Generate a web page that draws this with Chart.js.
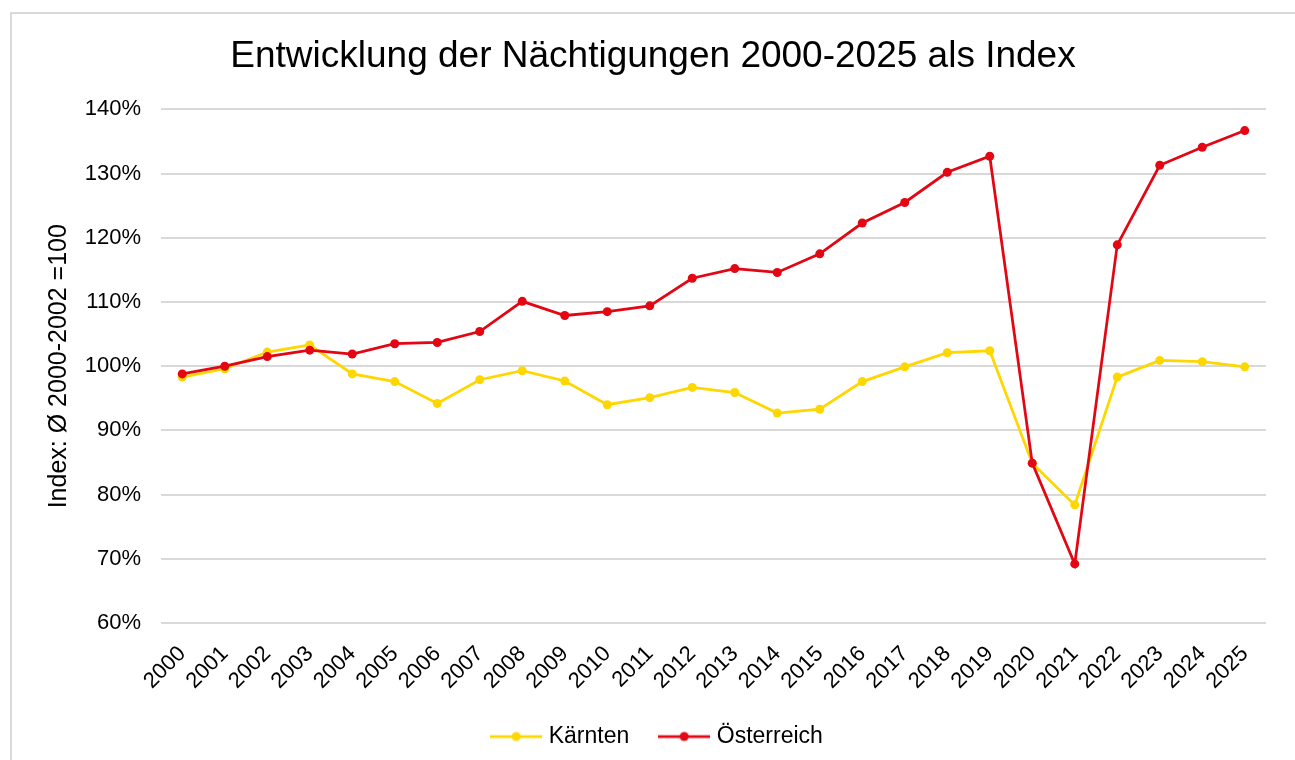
<!DOCTYPE html>
<html>
<head>
<meta charset="utf-8">
<script src="https://cdn.jsdelivr.net/npm/chart.js@4"></script>
<style>
  html, body { margin: 0; padding: 0; background: #fff; overflow: hidden; }
  #frame { position: absolute; left: 10px; top: 12px; width: 1400px; height: 900px; border: 2px solid #d9d9d9; }
  #wrap { position: absolute; left: 0; top: 0; }
</style>
</head>
<body>
<div id="frame"></div>
<div id="wrap"><canvas id="chart" width="1295" height="758"></canvas></div>
<script>
const years = ["2000", "2001", "2002", "2003", "2004", "2005", "2006", "2007", "2008", "2009",
  "2010", "2011", "2012", "2013", "2014", "2015", "2016", "2017", "2018", "2019",
  "2020", "2021", "2022", "2023", "2024", "2025"];

// Index in %, Ø 2000-2002 = 100
const kaernten = [98.3, 99.6, 102.2, 103.3, 98.8, 97.6, 94.2, 97.9, 99.3, 97.7,
  94.0, 95.1, 96.7, 95.9, 92.7, 93.3, 97.6, 99.9, 102.1, 102.4,
  84.9, 78.4, 98.3, 100.9, 100.7, 99.9];
const oesterreich = [98.8, 100.0, 101.5, 102.5, 101.9, 103.5, 103.7, 105.4, 110.1, 107.9,
  108.5, 109.4, 113.7, 115.2, 114.6, 117.5, 122.3, 125.5, 130.2, 132.7,
  84.9, 69.2, 118.9, 131.3, 134.1, 136.7];

const yMin = 60;
const yMax = 140;
const yStep = 10;

const YELLOW = "#ffd700";
const RED = "#e30613";
const FONT = "'Liberation Sans', Arial, sans-serif";

// little line-with-dot marker for the legend
function legendMarker(color) {
  const c = document.createElement("canvas");
  c.width = 52;
  c.height = 12;
  const ctx = c.getContext("2d");
  ctx.strokeStyle = color;
  ctx.lineWidth = 2.75;
  ctx.beginPath();
  ctx.moveTo(0, 6);
  ctx.lineTo(52, 6);
  ctx.stroke();
  ctx.fillStyle = color;
  ctx.beginPath();
  ctx.arc(26, 6, 4.5, 0, Math.PI * 2);
  ctx.fill();
  return c;
}

const markers = [legendMarker(YELLOW), legendMarker(RED)];

// legend sits a touch right of centre in the original
const legendNudge = {
  id: "legendNudge",
  afterLayout(chart) {
    chart.legend.left += 6;
    chart.legend.right += 6;
  }
};

new Chart(document.getElementById("chart"), {
  type: "line",
  data: {
    labels: years,
    datasets: [{
      label: "Kärnten",
      data: kaernten,
      borderColor: YELLOW,
      backgroundColor: YELLOW,
      borderWidth: 2.75,
      pointRadius: 4.5,
      pointBorderWidth: 0,
      tension: 0,
      order: 2
    }, {
      label: "Österreich",
      data: oesterreich,
      borderColor: RED,
      backgroundColor: RED,
      borderWidth: 2.75,
      pointRadius: 4.5,
      pointBorderWidth: 0,
      tension: 0,
      order: 1
    }]
  },
  plugins: [legendNudge],
  options: {
    responsive: false,
    animation: false,
    layout: { padding: { left: 40, right: 29, top: 0, bottom: 0 } },
    plugins: {
      tooltip: { enabled: false },
      title: {
        display: true,
        text: "Entwicklung der Nächtigungen 2000-2025 als Index",
        color: "#000",
        font: { family: FONT, size: 37, weight: "normal" },
        padding: { top: 35, bottom: 30 }
      },
      legend: {
        position: "bottom",
        labels: {
          color: "#000",
          font: { family: FONT, size: 23 },
          usePointStyle: true,
          pointStyleWidth: 42,
          padding: 34,
          sort: (a, b) => a.datasetIndex - b.datasetIndex,
          generateLabels(chart) {
            const items = Chart.defaults.plugins.legend.labels.generateLabels(chart);
            items.forEach(item => { item.pointStyle = markers[item.datasetIndex]; });
            return items;
          }
        }
      }
    },
    scales: {
      x: {
        offset: true,
        grid: { display: false, drawTicks: false },
        border: { display: false },
        ticks: {
          color: "#000",
          font: { family: FONT, size: 22 },
          minRotation: 45,
          maxRotation: 45,
          padding: 18,
          autoSkip: false
        },
        afterFit(scale) { scale.height = 68; }
      },
      y: {
        min: yMin,
        max: yMax,
        grid: { color: "#d9d9d9", lineWidth: 2, drawTicks: false },
        border: { display: false },
        ticks: {
          stepSize: yStep,
          color: "#000",
          font: { family: FONT, size: 22 },
          padding: 20,
          callback: v => v + "%"
        },
        title: {
          display: true,
          text: "Index: Ø 2000-2002 =100",
          color: "#000",
          font: { family: FONT, size: 25 },
          padding: { top: 4, bottom: 4 }
        },
        afterFit(scale) { scale.width = 121; }
      }
    }
  }
});
</script>
</body>
</html>
